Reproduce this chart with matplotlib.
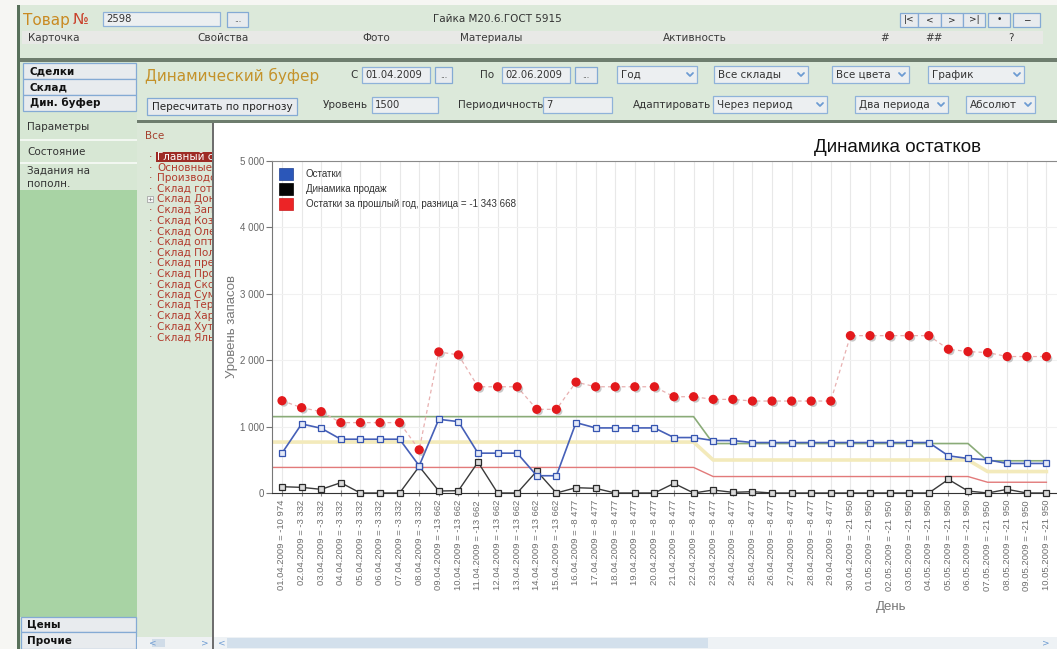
import numpy as np
import matplotlib
matplotlib.use('Agg')
import matplotlib.pyplot as plt
from matplotlib.patches import Rectangle, Patch
from matplotlib.ticker import FuncFormatter
import matplotlib.patheffects as pe

W, H = 1057, 649

# --- данные графика ---
dates = ['01.04.2009', '02.04.2009', '03.04.2009', '04.04.2009', '05.04.2009',
         '06.04.2009', '07.04.2009', '08.04.2009', '09.04.2009', '10.04.2009',
         '11.04.2009', '12.04.2009', '13.04.2009', '14.04.2009', '15.04.2009',
         '16.04.2009', '17.04.2009', '18.04.2009', '19.04.2009', '20.04.2009',
         '21.04.2009', '22.04.2009', '23.04.2009', '24.04.2009', '25.04.2009',
         '26.04.2009', '27.04.2009', '28.04.2009', '29.04.2009', '30.04.2009',
         '01.05.2009', '02.05.2009', '03.05.2009', '04.05.2009', '05.05.2009',
         '06.05.2009', '07.05.2009', '08.05.2009', '09.05.2009', '10.05.2009']
raznica = ['-10 974', '-3 332', '-3 332', '-3 332', '-3 332',
           '-3 332', '-3 332', '-3 332', '-13 662', '-13 662',
           '-13 662', '-13 662', '-13 662', '-13 662', '-13 662',
           '-8 477', '-8 477', '-8 477', '-8 477', '-8 477',
           '-8 477', '-8 477', '-8 477', '-8 477', '-8 477',
           '-8 477', '-8 477', '-8 477', '-8 477', '-21 950',
           '-21 950', '-21 950', '-21 950', '-21 950', '-21 950',
           '-21 950', '-21 950', '-21 950', '-21 950', '-21 950']
ostatki = [600, 1040, 975, 810, 810, 810, 810, 410, 1110, 1075,
           600, 600, 600, 260, 260, 1060, 980, 980, 980, 980,
           835, 835, 790, 790, 760, 760, 760, 760, 760, 760,
           760, 760, 760, 760, 560, 520, 500, 445, 445, 445]
prodazhi = [95, 85, 55, 155, 0, 0, 0, 400, 30, 35,
            465, 0, 0, 330, 0, 80, 70, 0, 0, 0,
            145, 0, 45, 10, 20, 0, 0, 0, 0, 0,
            0, 0, 0, 0, 205, 30, 0, 55, 0, 0]
proshly_god = [1390, 1285, 1225, 1060, 1060, 1060, 1060, 650, 2125, 2080,
               1600, 1600, 1600, 1260, 1260, 1670, 1600, 1600, 1600, 1600,
               1450, 1450, 1410, 1410, 1385, 1385, 1385, 1385, 1385, 2370,
               2370, 2370, 2370, 2370, 2165, 2130, 2115, 2055, 2055, 2055]
zona_zel = [1150, 1150, 1150, 1150, 1150, 1150, 1150, 1150, 1150, 1150,
            1150, 1150, 1150, 1150, 1150, 1150, 1150, 1150, 1150, 1150,
            1150, 1150, 745, 745, 745, 745, 745, 745, 745, 745,
            745, 745, 745, 745, 745, 745, 485, 485, 485, 485]
zona_zhel = [767, 767, 767, 767, 767, 767, 767, 767, 767, 767,
             767, 767, 767, 767, 767, 767, 767, 767, 767, 767,
             767, 767, 497, 497, 497, 497, 497, 497, 497, 497,
             497, 497, 497, 497, 497, 497, 323, 323, 323, 323]
zona_kr = [385, 385, 385, 385, 385, 385, 385, 385, 385, 385,
           385, 385, 385, 385, 385, 385, 385, 385, 385, 385,
           385, 385, 248, 248, 248, 248, 248, 248, 248, 248,
           248, 248, 248, 248, 248, 248, 162, 162, 162, 162]
legend_labels = ['Остатки', 'Динамика продаж',
                 'Остатки за прошлый год, разница = -1 343 668']

sklady = ['Главный с', 'Основные', 'Производс', 'Склад гото', 'Склад Дон',
          'Склад Зап', 'Склад Коз', 'Склад Оле', 'Склад опт', 'Склад Пол',
          'Склад пред', 'Склад Про', 'Склад Ско', 'Склад Сум', 'Склад Тер',
          'Склад Хар', 'Склад Хут', 'Склад Ялы']
vkladki = [('Карточка', 28), ('Свойства', 197), ('Фото', 362), ('Материалы', 460),
           ('Активность', 663), ('#', 880), ('##', 925), ('?', 1008)]

UI = 'DejaVu Sans'
CH = 'Liberation Sans'

fig = plt.figure(figsize=(W / 100, H / 100), dpi=100)
bg = fig.add_axes([0, 0, 1, 1])
bg.set_xlim(0, W)
bg.set_ylim(H, 0)
bg.axis('off')


def box(x0, y0, x1, y1, fc, ec='none', lw=1.0, z=1):
    bg.add_patch(Rectangle((x0, y0), x1 - x0, y1 - y0, facecolor=fc,
                           edgecolor=ec, linewidth=lw, zorder=z))


def txt(x, y, s, size=7.5, color='#333333', z=5, **kw):
    kw.setdefault('va', 'center')
    kw.setdefault('ha', 'left')
    return bg.text(x, y, s, fontsize=size, color=color, family=UI, zorder=z, **kw)


def button(x0, y0, x1, y1, label, size=7.5, bold=False, left=None):
    box(x0, y0, x1, y1, '#e8ebee', '#84aad4', 0.9, z=2)
    if left is None:
        txt((x0 + x1) / 2, (y0 + y1) / 2, label, size=size, ha='center',
            weight='bold' if bold else 'normal', color='#222222')
    else:
        txt(x0 + left, (y0 + y1) / 2, label, size=size,
            weight='bold' if bold else 'normal', color='#111111')


def field(x0, y0, x1, y1, value):
    box(x0, y0, x1, y1, '#eceff1', '#8fb2d9', 0.9, z=2)
    txt(x0 + 3, (y0 + y1) / 2 + 0.5, value, size=7.2, color='#333333')


def chevron(x, y):
    bg.plot([x - 3, x, x + 3], [y - 1.5, y + 1.5, y - 1.5], color='#6c9bd2',
            lw=1.3, zorder=3, solid_capstyle='round')


def combo(x0, y0, x1, y1, label):
    box(x0, y0, x1, y1, '#eceff1', '#8fb2d9', 0.9, z=2)
    txt(x0 + 4, (y0 + y1) / 2 + 0.5, label, size=7.5, color='#333333')
    chevron(x1 - 7, (y0 + y1) / 2)


# --- фон и шапка ---
box(0, 0, W, H, '#f6f6f3', z=0)
box(19, 5, W, 58, '#dce9da')
box(17, 5, 19.5, H, '#58705a', z=3)
box(22, 31, 1043, 44, '#e8e9e6')
txt(23, 20, 'Товар', size=11, color='#c98a22')
txt(73, 20, '№', size=11, color='#c9402a')
field(103, 12, 220, 26, '2598')
button(227, 12, 248, 27, '...', size=5.5)
txt(497, 19, 'Гайка М20.6.ГОСТ 5915', size=7.5, ha='center', color='#333333')
for (a, b), lab in zip([(900, 918), (918, 941), (941, 963), (963, 985), (988, 1010), (1013, 1040)],
                       ['|<', '<', '>', '>|', '•', '−']):
    button(a, 13, b, 27, lab, size=6.5)
for lab, xx in vkladki:
    txt(xx, 38, lab, size=7.5, color='#3a3a3a')

box(19, 58, W, 61.5, '#6e7d6e', z=2)
box(19, 61.5, W, 121, '#dce9da')
box(137, 120, W, 123, '#6e7d6e', z=2)

# --- панель параметров ---
txt(145, 76, 'Динамический буфер', size=11, color='#c4922a')
txt(350, 75, 'С', size=7.5)
field(362, 67, 430, 83, '01.04.2009')
button(435, 67, 452, 83, '...', size=5.5)
txt(480, 75, 'По', size=7.5)
field(502, 67, 570, 83, '02.06.2009')
button(575, 67, 597, 83, '...', size=5.5)
combo(617, 66, 697, 83, 'Год')
combo(714, 66, 808, 83, 'Все склады')
combo(832, 66, 909, 83, 'Все цвета')
combo(928, 66, 1024, 83, 'График')
button(147, 98, 297, 115, 'Пересчитать по прогнозу', size=7.5)
txt(323, 105, 'Уровень', size=7.5)
field(372, 97, 438, 113, '1500')
txt(458, 105, 'Периодичность', size=7.5)
field(543, 97, 612, 113, '7')
txt(633, 105, 'Адаптировать', size=7.5)
combo(713, 96, 827, 113, 'Через период')
combo(855, 96, 948, 113, 'Два периода')
combo(966, 96, 1035, 113, 'Абсолют')

# --- левое меню ---
box(19.5, 61.5, 137, H, '#d7e7d4')
box(19.5, 190, 137, 617, '#a8d3a4')
box(19.5, 139, 137, 140.5, '#f2f7f1', z=2)
box(19.5, 162, 137, 163.5, '#f2f7f1', z=2)
button(23, 63, 136, 79, 'Сделки', bold=True, left=7)
button(23, 79, 136, 95, 'Склад', bold=True, left=7)
button(23, 95, 136, 111, 'Дин. буфер', bold=True, left=7)
txt(27, 127, 'Параметры', size=7.5)
txt(27, 152, 'Состояние', size=7.5)
txt(27, 171, 'Задания на', size=7.5)
txt(27, 184, 'пополн.', size=7.5)
button(21, 617, 136, 632, 'Цены', bold=True, left=6)
button(21, 632, 136, 649, 'Прочие', bold=True, left=6)

# --- дерево складов ---
box(137, 123, 213, H, '#dbe8d8')
txt(145, 136, 'Все', size=7.5, color='#a5402e', z=3)
for k, name in enumerate(sklady):
    yy = 157 + k * 10.6
    if k == 0:
        box(156, yy - 5, 213, yy + 5, '#9e2b25', z=2)
    if k == 4:
        box(147, yy - 3, 153, yy + 3, '#f4f4f4', '#999999', 0.5, z=2)
        txt(150, yy, '+', size=4.5, ha='center', color='#555555', z=3)
    else:
        txt(151, yy, '·', size=7.5, ha='center', color='#a5402e', z=3)
    txt(157, yy, name, size=7.5, color='white' if k == 0 else '#b23a2c', z=3)

# --- панель графика и прокрутка ---
box(214, 123, W, 637, 'white', z=4)
box(211.5, 123, 214, H, '#6e6e6e', z=4)
box(137, 637, 212, H, '#eef1f3', z=4)
box(152, 639, 165, 647, '#d0dce8', z=4)
txt(149, 643, '<', size=6.5, color='#6c9bd2', z=5)
txt(201, 643, '>', size=6.5, color='#6c9bd2', z=5)
box(214, 637, W, H, '#eef2f5', z=4)
box(227, 638, 708, 648, '#d3e0ec', z=4)
txt(218, 643, '<', size=6.5, color='#6c9bd2', z=5)
txt(1042, 643, '>', size=6.5, color='#6c9bd2', z=5)

# --- сам график ---
px0, step = 282, 19.6
ax_l, ax_r, ax_b, ax_t = 272, 1070, 493, 161
ax = fig.add_axes([ax_l / W, 1 - ax_b / H, (ax_r - ax_l) / W, (ax_b - ax_t) / H])
xmin = (ax_l - px0) / step
xmax = (ax_r - px0) / step
ax.set_xlim(xmin, xmax)
ax.set_ylim(0, 5000)

x = np.arange(len(dates))
xl = np.r_[xmin, x]

ax.plot(xl, np.r_[zona_zhel[0], zona_zhel], color='#f3eabb', lw=2.6, zorder=2)
ax.plot(xl, np.r_[zona_zel[0], zona_zel], color='#8aab78', lw=1.2, zorder=2)
ax.plot(xl, np.r_[zona_kr[0], zona_kr], color='#e27a7a', lw=1.0, zorder=2)

ax.plot(x, proshly_god, color='#e8b0b0', lw=0.9, ls=(0, (3, 2.5)), zorder=3)
ax.plot(x, prodazhi, color='#3a3a3a', lw=1.0, marker='s', ms=4.8,
        mfc='#dadada', mec='#2a2a2a', mew=0.9, zorder=4, clip_on=False)
ax.plot(x, ostatki, color='#4660b8', lw=1.2, marker='s', ms=5,
        mfc='#e3e9f7', mec='#3554b0', mew=0.9, zorder=5)
ax.plot(x, proshly_god, ls='none', marker='o', ms=5.6, color='#e3191c', zorder=6,
        path_effects=[pe.SimplePatchShadow(offset=(1.5, -1.5), shadow_rgbFace='#888888', alpha=0.45),
                      pe.Normal()])

ax.set_xticks(x)
ax.set_xticklabels([f'{d} = {r}' for d, r in zip(dates, raznica)], rotation=90,
                   fontsize=6.8, color='#6e6e6e', family=CH)
ax.set_yticks([0, 1000, 2000, 3000, 4000, 5000])
ax.yaxis.set_major_formatter(FuncFormatter(lambda v, p: f'{v:,.0f}'.replace(',', ' ')))
for lab in ax.get_yticklabels():
    lab.set_family(CH)
ax.tick_params(axis='x', direction='inout', length=4, pad=3, color='#888888')
ax.tick_params(axis='y', direction='out', length=4, pad=1.5, color='#777777',
               labelsize=7, labelcolor='#666666')

ax.grid(axis='x', color='#e8e8e8', lw=0.8)
ax.grid(axis='y', color='#f1f1f1', lw=0.8)
ax.set_axisbelow(True)
ax.spines['right'].set_visible(False)
ax.spines['left'].set_color('#777777')
ax.spines['top'].set_color('#8a8a8a')
ax.spines['bottom'].set_color('#333333')

ax.set_ylabel('Уровень запасов', fontsize=9.5, color='#777777', family=CH)
ax.yaxis.set_label_coords((238 - ax_l) / (ax_r - ax_l), 0.5)
ax.set_xlabel('День', fontsize=9.5, color='#777777', family=CH)
ax.xaxis.set_label_coords((891 - ax_l) / (ax_r - ax_l), (ax_b - 601) / (ax_b - ax_t))
ax.text((898 - ax_l) / (ax_r - ax_l), (ax_b - 148) / (ax_b - ax_t), 'Динамика остатков',
        transform=ax.transAxes, ha='center', va='center', fontsize=13.5,
        color='#111111', family=CH)

handles = [Patch(facecolor='#2b57b9', edgecolor='#1f3f8f', lw=0.5),
           Patch(facecolor='#050505', edgecolor='#000000', lw=0.5),
           Patch(facecolor='#ec2426', edgecolor='#c81a1c', lw=0.5)]
leg = ax.legend(handles, legend_labels, loc='upper left',
                bbox_to_anchor=((279 - ax_l) / (ax_r - ax_l), (ax_b - 168) / (ax_b - ax_t)),
                frameon=False, prop={'family': CH, 'size': 7},
                handlelength=1.44, handleheight=1.55, handletextpad=1.3,
                labelspacing=0.3, borderpad=0, borderaxespad=0)
for t in leg.get_texts():
    t.set_color('#333333')

fig.savefig('out.png', dpi=100)
